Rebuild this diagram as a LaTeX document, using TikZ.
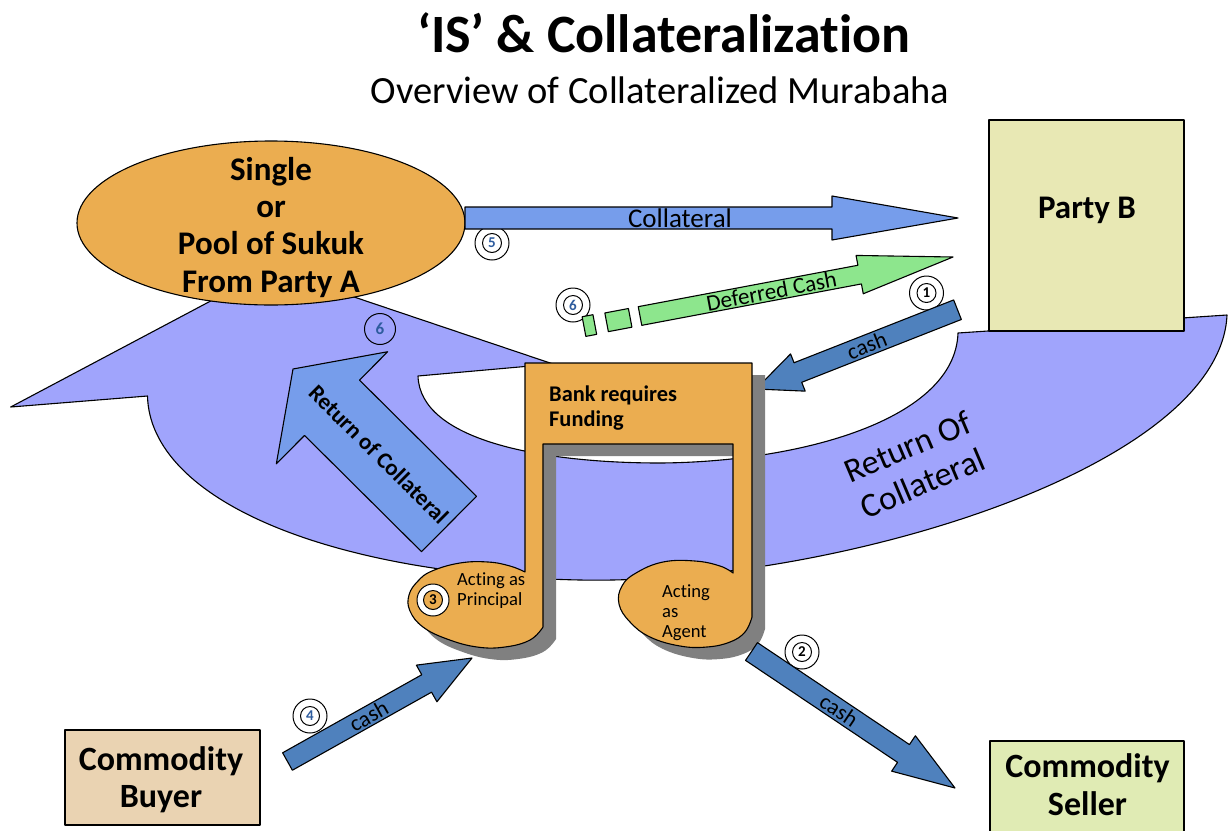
\documentclass[tikz,border=0pt]{standalone}
\usepackage{fontspec}
\setmainfont{Carlito}[Ligatures=NoCommon]
\usetikzlibrary{calc,shapes.geometric}
\definecolor{orng}{HTML}{EBAD50}
\definecolor{bandcol}{HTML}{A0A4FC}
\definecolor{colblue}{HTML}{769DEB}
\definecolor{cashblue}{HTML}{4F81BD}
\definecolor{grn}{HTML}{8DE68D}
\definecolor{partyb}{HTML}{E8E8B4}
\definecolor{buyercol}{HTML}{EAD3B2}
\definecolor{sellercol}{HTML}{E0EBB4}
\definecolor{shadowgray}{HTML}{808080}
\definecolor{digblue}{HTML}{2E5C9E}
\newcommand\fsz[2]{\fontsize{#1}{#2}\selectfont}
% block arrow: [style]{tail}{tip}{head base}{shaft half width}{head half width}
\newcommand\blockarrow[6][]{%
 \path[#1] ($(#2)!#5!90:(#3)$) -- ($(#4)!#5!90:(#3)$) -- ($(#4)!#6!90:(#3)$) -- (#3)
   -- ($(#4)!#6!-90:(#3)$) -- ($(#4)!#5!-90:(#3)$) -- ($(#2)!#5!-90:(#3)$) -- cycle;}
\newcommand\bankoutline{(525,363) -- (752,363) -- (752,617)
  -- plot[smooth, tension=0.7] coordinates {(752,617) (745,632) (730,642) (707,647) (680,646) (650,637) (630,622) (619,604) (622,586) (636,573) (663,562) (695,561) (720,566) (733,573)}
  -- (733,444) -- (543,444) -- (543,627)
  -- plot[smooth, tension=0.7] coordinates {(543,627) (530,640) (505,647) (477,647) (447,639) (423,627) (410,611) (409,595) (418,581) (432,571) (460,563) (488,562) (510,566) (525,572)}
  -- cycle}
\begin{document}
\begin{tikzpicture}[x=1pt,y=-1pt, line join=round,
  outl/.style={draw=black, line width=1.1pt},
  txt/.style={inner sep=0pt, anchor=base},
  ltxt/.style={inner sep=0pt, anchor=base west},
  numring/.style={circle, draw=black, line width=1pt, fill=white, minimum size=34pt, inner sep=0pt},
  numdot/.style={circle, draw=black, line width=1pt, minimum size=19pt, inner sep=0pt, font=\fsz{15}{15}\bfseries},
  boxstyle/.style={outl, line width=1.3pt}]
\fill[white] (0,0) rectangle (1230,830);
\useasboundingbox (0,0) rectangle (1230,830);

% titles
\node[txt, font=\fsz{54}{60}\bfseries] (title) at (664,52) {‘IS’ \& Collateralization};
\node[txt, font=\fsz{38.5}{44}] (subtitle) at (660,103) {Overview of Collateralized Murabaha};

% big curved band
\path[fill=bandcol, outl] (1227,315) -- (958,333)
  .. controls (955,420) and (800,462) .. (660,463)
  .. controls (540,463) and (420,440) .. (418,376)
  -- (553,364) -- (271,269) -- (10.7,407) -- (147.5,396)
  .. controls (150,500) and (330,575) .. (580,580)
  .. controls (830,585) and (1220,470) .. (1227,315) -- cycle;
\node[rotate=23, align=center, font=\fsz{34}{39}, inner sep=0pt] (bigret) at (915,465) {Return Of\\Collateral};
\node[circle, draw=black, line width=1pt, minimum size=31pt, inner sep=0pt, font=\fsz{17}{17}\bfseries, text=digblue] (b6) at (380,329) {6};

% return of collateral arrow
\coordinate (rA) at (449,524);
\coordinate (rB) at (293,369);
\coordinate (rH) at ($(rB)!55pt!(rA)$);
\blockarrow[fill=colblue, outl]{rA}{rB}{rH}{39pt}{79pt}
\path (rA) -- (rB) node[pos=0.45, sloped, font=\fsz{23}{23}\bfseries, inner sep=0pt] (rlab) {Return of Collateral};

% cash arrow 1
\coordinate (c1A) at (957.5,309.7);
\coordinate (c1B) at (756,389);
\coordinate (c1H) at ($(c1B)!45pt!(c1A)$);
\node[numring] (r1) at (926.5,293) {};
\node[numdot] (d1) at (r1) {1};
\blockarrow[fill=cashblue, outl]{c1A}{c1B}{c1H}{10.5pt}{20pt}
\path (c1A) -- (c1B) node[pos=0.45, sloped, font=\fsz{22.5}{22.5}, inner sep=0pt] (c1lab) {cash};

% bank shape with shadow
\fill[shadowgray, shift={(13,12)}] \bankoutline;
\path[fill=orng, outl] \bankoutline;
\node[ltxt, font=\fsz{22.4}{22.4}\bfseries] (bank1) at (549,401) {Bank requires};
\node[ltxt, font=\fsz{22.4}{22.4}\bfseries] (bank2) at (549,426) {Funding};
\node[ltxt, font=\fsz{18.6}{18.6}] (pr1) at (457,585) {Acting as};
\node[ltxt, font=\fsz{18.6}{18.6}] (pr2) at (457,605) {Principal};
\node[numring, minimum size=32pt] (r3) at (433,600) {};
\node[numdot, fill=orng] (d3) at (r3) {3};
\node[ltxt, font=\fsz{18.6}{18.6}] (ag1) at (662,597) {Acting};
\node[ltxt, font=\fsz{18.6}{18.6}] (ag2) at (662,617) {as};
\node[ltxt, font=\fsz{18.6}{18.6}] (ag3) at (662,637) {Agent};

% sukuk ellipse
\node[ellipse, minimum width=388pt, minimum height=164pt, inner sep=0pt, fill=orng, outl] (pool) at (271,223) {};
\node[txt, font=\fsz{33}{33}\bfseries] (p1) at (271,180) {Single};
\node[txt, font=\fsz{33}{33}\bfseries] (p2) at (271,217) {or};
\node[txt, font=\fsz{33}{33}\bfseries] (p3) at (271,254) {Pool of Sukuk};
\node[txt, font=\fsz{33}{33}\bfseries] (p4) at (271,292) {From Party A};

% party B
\node[fill=partyb, boxstyle, minimum width=195pt, minimum height=211pt, inner sep=0pt] (partyB) at (1086.5,225.5) {};
\node[txt, font=\fsz{33}{33}\bfseries] (pBlab) at (1087,218) {Party B};

% collateral arrow
\node[numring] (r5) at (492,243) {};
\node[numdot, text=digblue] (d5) at (r5) {5};
\coordinate (cA) at (465,218);
\coordinate (cB) at (958,218);
\coordinate (cH) at (832,218);
\blockarrow[fill=colblue, outl]{cA}{cB}{cH}{11pt}{22pt}
\path (cA) -- (cB) node[pos=0.436, font=\fsz{27}{27}, inner sep=0pt] (collab) {Collateral};

% deferred cash striped arrow
\node[numring] (r6) at (573,305) {};
\node[numdot, text=digblue] (d6) at (r6) {6};
\coordinate (gT) at (640,316);
\coordinate (gB) at (953,257);
\coordinate (gH) at ($(gB)!95pt!(gT)$);
\coordinate (s2a) at ($(gT)!-10pt!(gB)$);
\coordinate (s2b) at ($(gT)!-34pt!(gB)$);
\coordinate (s1a) at ($(gT)!-46pt!(gB)$);
\coordinate (s1b) at ($(gT)!-57pt!(gB)$);
\path[fill=grn, outl] ($(s2a)!9.5pt!90:(gB)$) -- ($(s2b)!9.5pt!90:(gB)$) -- ($(s2b)!9.5pt!-90:(gB)$) -- ($(s2a)!9.5pt!-90:(gB)$) -- cycle;
\path[fill=grn, outl] ($(s1a)!10pt!90:(gB)$) -- ($(s1b)!10pt!90:(gB)$) -- ($(s1b)!10pt!-90:(gB)$) -- ($(s1a)!10pt!-90:(gB)$) -- cycle;
\blockarrow[fill=grn, outl]{gT}{gB}{gH}{9.5pt}{19.5pt}
\path (gT) -- (gB) node[pos=0.42, sloped, font=\fsz{23}{23}, inner sep=0pt] (glab) {Deferred Cash};

% commodity buyer
\node[fill=buyercol, boxstyle, minimum width=195pt, minimum height=95pt, inner sep=0pt] (buyer) at (162.5,777.5) {};
\node[txt, font=\fsz{34}{34}\bfseries] (by1) at (161,770) {Commodity};
\node[txt, font=\fsz{34}{34}\bfseries] (by2) at (161,807) {Buyer};

% cash arrow 4
\node[numring] (r4) at (310,716) {};
\node[numdot, text=digblue] (d4) at (r4) {4};
\coordinate (c4A) at (287.5,761.5);
\coordinate (c4B) at (472,658);
\coordinate (c4H) at ($(c4B)!52pt!(c4A)$);
\blockarrow[fill=cashblue, outl]{c4A}{c4B}{c4H}{10pt}{21pt}
\path (c4A) -- (c4B) node[pos=0.44, sloped, font=\fsz{22.5}{22.5}, inner sep=0pt] (c4lab) {cash};

% commodity seller
\node[fill=sellercol, boxstyle, minimum width=194pt, minimum height=110pt, inner sep=0pt] (seller) at (1087,796) {};
\node[txt, font=\fsz{34}{34}\bfseries] (sl1) at (1087.5,777) {Commodity};
\node[txt, font=\fsz{34}{34}\bfseries] (sl2) at (1087.5,815) {Seller};

% cash arrow 2
\node[numring] (r2) at (802,652) {};
\node[numdot] (d2) at (r2) {2};
\coordinate (c2A) at (751.5,651.5);
\coordinate (c2B) at (955,788);
\coordinate (c2H) at ($(c2B)!62pt!(c2A)$);
\blockarrow[fill=cashblue, outl]{c2A}{c2B}{c2H}{10.7pt}{21.3pt}
\path (c2A) -- (c2B) node[pos=0.43, sloped, font=\fsz{22.5}{22.5}, inner sep=0pt] (c2lab) {cash};
\end{tikzpicture}
\end{document}
